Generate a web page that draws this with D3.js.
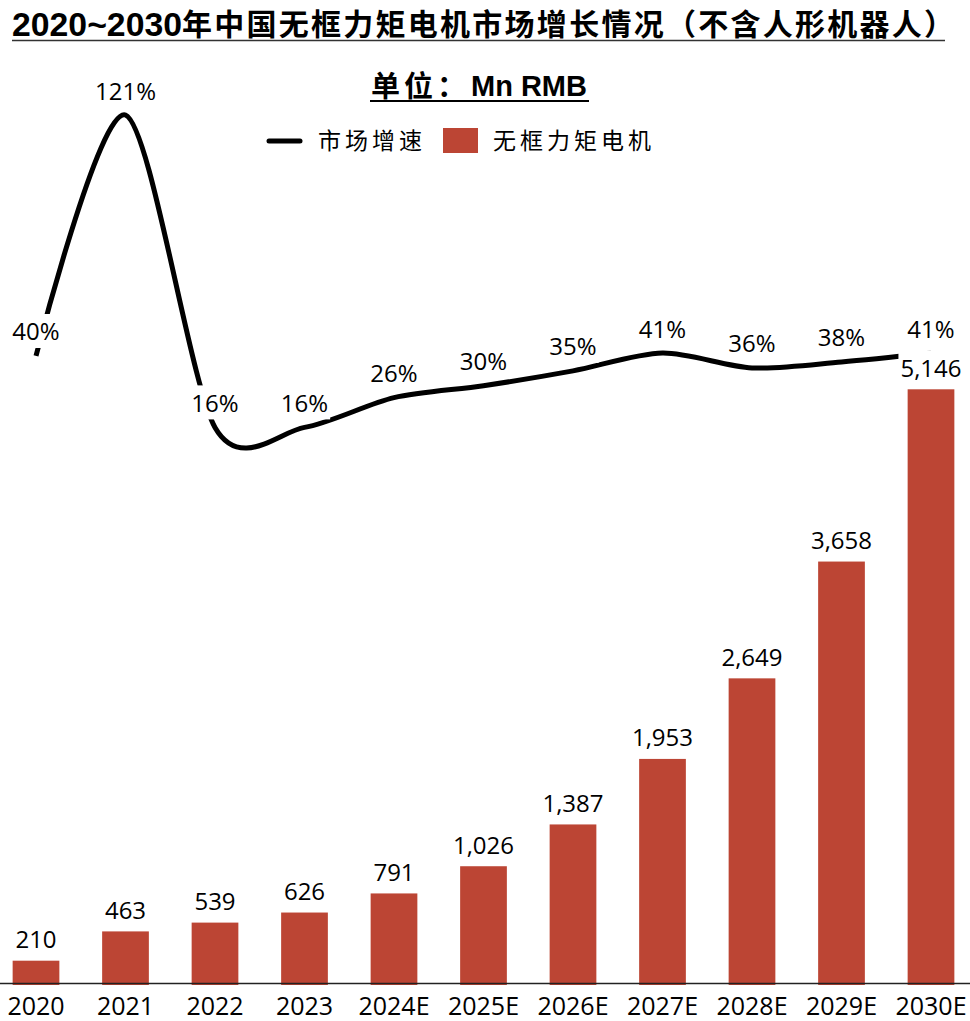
<!DOCTYPE html>
<html>
<head>
<meta charset="utf-8">
<script src="https://cdn.jsdelivr.net/npm/d3@7"></script>
<style>
  html, body { margin: 0; padding: 0; background: #fff; }
  svg { display: block; }
</style>
</head>
<body>
<script>
const categories = ["2020","2021","2022","2023","2024E","2025E","2026E","2027E","2028E","2029E","2030E"];
const marketSize = [210,463,539,626,791,1026,1387,1953,2649,3658,5146];
const growthPct = [40,121,16,16,26,30,35,41,36,38,41];
const titleNum = "2020~2030";
const titleCn = "年中国无框力矩电机市场增长情况（不含人形机器人）";
const unitCn = "单位：";
const unitEn = "Mn RMB";
const legendLine = "市场增速";
const legendBar = "无框力矩电机";

const W = 970, H = 1021;
const barColor = "#BC4534";
const numFont = "'Open Sans', 'DejaVu Sans', sans-serif";
const cjkFont = "'Noto Sans CJK SC', sans-serif";

const svg = d3.select("body").append("svg").attr("width", W).attr("height", H);

const x = d3.scaleBand().domain(categories).range([-8.75, 975.75]).paddingInner(0.478).paddingOuter(0.239);
const ySize = d3.scaleLinear().domain([0, 5146]).range([985, 389.3]);
const yPct = d3.scaleLinear().domain([0, 121]).range([475, 115]);

// Title
svg.append("text").attr("x", 12).attr("y", 36)
  .attr("font-family", "'Liberation Sans', Arial, sans-serif").attr("font-weight", "bold")
  .attr("font-size", 33).attr("textLength", 170).attr("lengthAdjust", "spacingAndGlyphs")
  .attr("fill", "#000").text(titleNum);
svg.append("text").attr("x", 182).attr("y", 35)
  .attr("font-family", cjkFont).attr("font-weight", "bold")
  .attr("font-size", 30).attr("textLength", 772).attr("lengthAdjust", "spacing")
  .attr("fill", "#000").text(titleCn);
svg.append("line").attr("x1", 12).attr("x2", 945).attr("y1", 40.5).attr("y2", 40.5)
  .attr("stroke", "#333").attr("stroke-width", 1.5);

// Unit
svg.append("text").attr("x", 371).attr("y", 97)
  .attr("font-family", cjkFont).attr("font-weight", "bold").attr("font-size", 29)
  .attr("letter-spacing", 4).text(unitCn);
svg.append("text").attr("x", 471).attr("y", 96)
  .attr("font-family", "'Liberation Sans', Arial, sans-serif").attr("font-weight", "bold").attr("font-size", 29).text(unitEn);
svg.append("line").attr("x1", 370).attr("x2", 589).attr("y1", 101).attr("y2", 101)
  .attr("stroke", "#000").attr("stroke-width", 2);

// Legend
svg.append("line").attr("x1", 269).attr("x2", 300).attr("y1", 141).attr("y2", 141)
  .attr("stroke", "#000").attr("stroke-width", 5).attr("stroke-linecap", "round");
svg.append("text").attr("x", 318).attr("y", 149)
  .attr("font-family", cjkFont).attr("font-size", 23).attr("letter-spacing", 4).text(legendLine);
svg.append("rect").attr("x", 443).attr("y", 128).attr("width", 35).attr("height", 25).attr("fill", barColor);
svg.append("text").attr("x", 493).attr("y", 149)
  .attr("font-family", cjkFont).attr("font-size", 23).attr("letter-spacing", 4).text(legendBar);

// Bars
svg.append("g").selectAll("rect").data(marketSize).join("rect")
  .attr("x", (d, i) => x(categories[i]))
  .attr("width", x.bandwidth())
  .attr("y", d => ySize(d))
  .attr("height", d => ySize(0) - ySize(d))
  .attr("fill", barColor);

// Axis
const axisG = svg.append("g").attr("transform", `translate(0,${983.5})`)
  .call(d3.axisBottom(x).tickSize(0).tickPadding(10));
axisG.select(".domain").attr("d", `M0,0H${W}`).attr("stroke", "#222").attr("stroke-width", 1.6);
axisG.selectAll("text").attr("font-family", numFont).attr("font-size", 25).attr("fill", "#000")
  .attr("dy", "0.85em");

// Growth line
const cx = i => x(categories[i]) + x.bandwidth() / 2;
const line = d3.line().x((d, i) => cx(i)).y(d => yPct(d)).curve(d3.curveCardinal.tension(0.15));
svg.append("path").datum(growthPct).attr("d", line)
  .attr("fill", "none").attr("stroke", "#000").attr("stroke-width", 5).attr("stroke-linecap", "butt");

// Labels with white background
function addLabel(g, tx, ty, str) {
  const grp = g.append("g");
  const t = grp.append("text").attr("x", tx).attr("y", ty)
    .attr("text-anchor", "middle").attr("dominant-baseline", "central")
    .attr("font-family", numFont).attr("font-size", 24).attr("fill", "#000").text(str);
  const bb = t.node().getBBox();
  grp.insert("rect", "text").attr("x", bb.x - 2).attr("y", ty - 17).attr("width", bb.width + 4).attr("height", 34).attr("fill", "#fff");
}
const labels = svg.append("g");
growthPct.forEach((v, i) => addLabel(labels, cx(i), yPct(v) - 25, v + "%"));
const fmt = d3.format(",");
marketSize.forEach((v, i) => addLabel(labels, cx(i), ySize(v) - 22, fmt(v)));
</script>
</body>
</html>
